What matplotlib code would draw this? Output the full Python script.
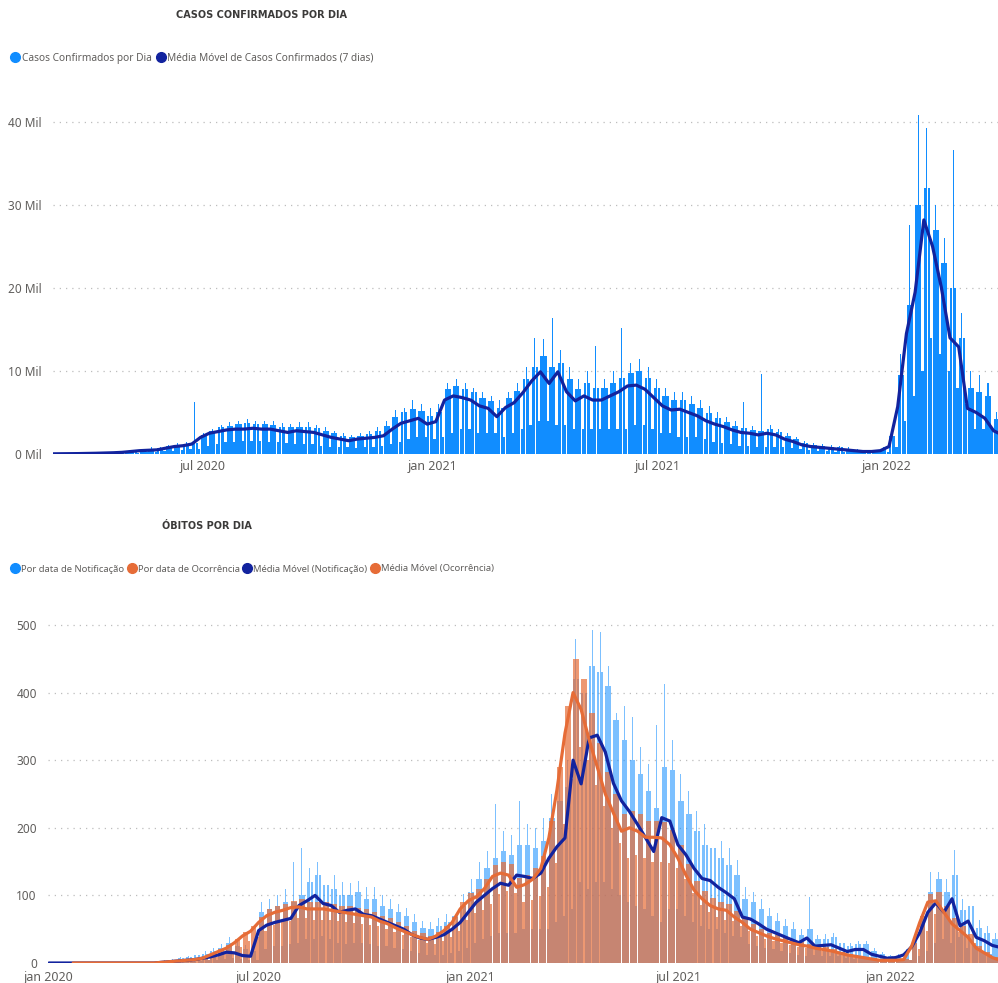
import numpy as np
import pandas as pd
import matplotlib
matplotlib.use('Agg')
import matplotlib.pyplot as plt
import matplotlib.dates as mdates
from matplotlib.lines import Line2D

# casos confirmados, semanas a partir de 02/03/2020 (valores em milhares)
casos_mm = [0.02, 0.03, 0.04, 0.05, 0.07, 0.09, 0.12, 0.15, 0.2,
            0.3, 0.4, 0.45, 0.5, 0.7, 0.9, 1.0, 1.2,
            2.0, 2.5, 2.7, 2.9, 3.0, 3.0, 3.1, 3.0, 3.0, 2.8, 2.6, 2.8, 2.7, 2.6,
            2.3, 2.0, 1.8, 1.6, 1.8, 1.9, 2.0, 2.2, 3.0, 3.7, 4.0, 4.3, 3.6, 3.9,
            6.5, 7.0, 6.8, 6.5, 5.8, 5.5, 4.5, 5.6, 6.2, 7.4, 8.8, 9.9, 8.5, 9.9,
            7.5, 6.4, 7.0, 6.5, 6.5, 7.0, 7.5, 8.2, 8.3, 7.8, 6.8, 5.8, 5.3, 5.4,
            5.0, 4.6, 4.0, 3.6, 3.3, 2.9, 2.6, 2.5, 2.3, 2.5, 2.3, 1.8, 1.5, 1.1,
            0.9, 0.8, 0.7, 0.6, 0.5, 0.4, 0.3, 0.3, 0.4, 0.9, 5.7, 14.5, 19.5, 28.2,
            25.0, 20.1, 14.0, 12.9, 5.5, 5.0, 4.3, 2.8, 2.3]
casos_pico = [0.05, 0.05, 0.08, 0.1, 0.12, 0.15, 0.2, 0.25, 0.3, 0.4, 0.5, 0.8, 0.9, 1.1, 1.3, 1.4, 6.3,
              2.5, 3.0, 3.5, 3.8, 4.0, 4.2, 4.0, 4.0, 4.0, 3.7, 3.6, 3.8, 3.8, 3.5,
              3.2, 2.8, 2.5, 2.3, 2.5, 2.8, 3.3, 4.0, 5.3, 5.6, 6.5, 6.0, 5.5, 6.0,
              8.5, 9.0, 8.5, 8.0, 7.5, 7.0, 6.5, 7.5, 8.5, 10.5, 14.0, 13.8, 16.4, 12.5,
              10.5, 9.0, 10.0, 13.0, 9.0, 10.0, 15.2, 11.0, 11.5, 10.5, 9.0, 8.0, 7.5, 7.5,
              7.0, 6.5, 5.8, 5.0, 4.5, 4.0, 6.3, 3.4, 9.6, 3.5, 3.0, 2.5, 2.0, 1.6,
              1.3, 1.2, 1.1, 1.0, 0.8, 0.6, 0.5, 0.5, 0.8, 3.0, 12.0, 27.6, 40.9, 39.3,
              30.0, 26.0, 36.6, 17.0, 10.0, 9.5, 8.5, 5.0, 5.0]
casos_base = [0.04, 0.04, 0.06, 0.08, 0.1, 0.12, 0.16, 0.2, 0.25, 0.35, 0.45, 0.65, 0.75, 0.95, 1.1, 1.2, 1.3,
              2.3, 2.8, 3.2, 3.4, 3.6, 3.7, 3.6, 3.6, 3.5, 3.3, 3.2, 3.3, 3.3, 3.1,
              2.8, 2.5, 2.2, 2.0, 2.2, 2.4, 2.8, 3.4, 4.5, 5.0, 5.4, 5.2, 4.6, 5.0,
              7.8, 8.2, 7.8, 7.5, 6.8, 6.4, 5.5, 6.7, 7.6, 9.0, 10.5, 11.8, 10.5, 11.0,
              9.0, 7.8, 8.5, 8.0, 8.0, 8.6, 9.2, 9.8, 10.0, 9.2, 8.0, 7.0, 6.5, 6.5,
              6.0, 5.5, 4.9, 4.3, 3.9, 3.4, 3.1, 2.9, 2.8, 3.0, 2.7, 2.2, 1.8, 1.3,
              1.1, 1.0, 0.9, 0.8, 0.6, 0.5, 0.4, 0.4, 0.6, 2.2, 9.5, 18.0, 30.0, 32.0,
              27.0, 23.0, 20.0, 14.0, 8.0, 7.5, 7.0, 4.2, 3.5]
casos_vale = [0.02, 0.02, 0.03, 0.04, 0.05, 0.06, 0.08, 0.1, 0.12, 0.15, 0.2, 0.3, 0.35, 0.4, 0.5, 0.55, 0.6,
              1.0, 1.2, 1.5, 1.5, 1.6, 1.6, 1.6, 1.5, 1.5, 1.3, 1.2, 1.2, 1.2, 1.0,
              0.9, 0.8, 0.8, 0.7, 0.8, 0.9, 1.0, 1.2, 1.5, 1.8, 2.0, 2.0, 1.8, 2.0,
              2.5, 3.0, 3.0, 2.5, 2.5, 2.5, 2.0, 2.5, 3.0, 3.5, 4.0, 4.0, 3.5, 3.5,
              3.0, 3.0, 3.0, 3.0, 3.0, 3.0, 3.0, 3.5, 3.5, 3.0, 2.5, 2.5, 2.0, 2.0,
              2.0, 1.8, 1.5, 1.3, 1.2, 1.0, 1.0, 0.9, 0.9, 0.9, 0.8, 0.7, 0.6, 0.5,
              0.4, 0.4, 0.3, 0.3, 0.2, 0.2, 0.2, 0.2, 0.3, 0.8, 4.0, 7.0, 10.0, 14.0,
              12.0, 10.0, 8.0, 6.0, 3.0, 3.0, 3.0, 1.5, 1.5]

# obitos, semanas a partir de 01/01/2020
notif_base = [0] * 13 + [1, 3, 5, 7, 9, 12, 14, 18, 22, 30, 25, 20, 18,
              75, 80, 85, 90, 90, 100, 120, 130, 115, 110, 100, 100, 105, 95,
              95, 85, 80, 75, 70, 60, 52, 50, 55, 60, 70, 85, 105, 125,
              140, 155, 165, 160, 175, 175, 170, 180, 215, 240, 260, 420, 400, 440,
              430, 410, 360, 330, 300, 280, 255, 230, 290, 285, 240, 220, 195, 175,
              170, 155, 145, 130, 95, 90, 80, 70, 62, 55, 50, 42, 50, 35,
              36, 38, 30, 25, 28, 28, 18, 14, 10, 11, 17, 33, 62, 105,
              125, 105, 130, 78, 85, 52, 45, 36, 32]
notif_pico = [0] * 13 + [1, 4, 6, 9, 11, 15, 18, 22, 28, 38, 32, 26, 24,
              90, 95, 100, 110, 150, 170, 140, 150, 135, 130, 120, 118, 122, 112,
              112, 100, 95, 88, 82, 72, 62, 60, 66, 72, 84, 102, 125, 150,
              165, 235, 195, 190, 240, 205, 200, 215, 250, 280, 300, 480, 507, 493,
              490, 440, 370, 380, 364, 320, 295, 352, 413, 330, 280, 255, 225, 205,
              198, 180, 170, 152, 112, 105, 95, 82, 74, 65, 60, 50, 98, 42,
              43, 45, 36, 30, 33, 33, 22, 17, 12, 13, 20, 40, 75, 135,
              135, 125, 167, 95, 100, 63, 54, 44, 38]
notif_vale = [0] * 13 + [0, 0, 1, 1, 2, 3, 4, 5, 6, 8, 6, 5, 5,
              20, 25, 25, 28, 30, 35, 35, 40, 35, 30, 28, 30, 30, 28,
              25, 25, 22, 20, 18, 15, 12, 12, 12, 15, 18, 22, 30, 35,
              40, 45, 45, 45, 50, 50, 50, 50, 60, 70, 80, 120, 110, 120,
              120, 110, 100, 90, 85, 80, 70, 60, 80, 80, 70, 60, 55, 50,
              50, 45, 40, 38, 28, 25, 22, 20, 18, 15, 12, 10, 12, 10,
              10, 10, 8, 6, 7, 7, 5, 4, 3, 3, 5, 10, 18, 30,
              35, 30, 38, 22, 25, 15, 13, 10, 9]
ocorr_alto = [0] * 13 + [0, 1, 3, 4, 5, 6, 9, 14, 20, 26, 35, 46, 54,
              68, 80, 85, 88, 92, 94, 90, 90, 90, 88, 85, 84, 82, 80,
              76, 70, 66, 60, 54, 48, 44, 40, 46, 55, 68, 90, 104, 110,
              124, 145, 150, 146, 126, 130, 140, 158, 210, 290, 380, 450, 420, 370,
              325, 282, 250, 220, 225, 220, 210, 210, 208, 197, 175, 146, 122, 107,
              96, 90, 88, 77, 68, 57, 51, 45, 41, 37, 34, 31, 28, 25,
              23, 20, 17, 14, 11, 9, 7, 5, 5, 5, 6, 30, 70, 102,
              105, 85, 66, 55, 43, 25, 17, 9, 5]
ocorr_baixo = [0] * 13 + [0, 0, 1, 2, 3, 4, 5, 9, 13, 17, 24, 32, 38,
               48, 56, 60, 62, 66, 66, 64, 64, 64, 62, 61, 59, 58, 56,
               54, 50, 46, 42, 38, 34, 30, 28, 32, 38, 48, 64, 74, 78,
               88, 102, 106, 104, 90, 93, 99, 112, 148, 205, 272, 320, 300, 264,
               232, 200, 178, 156, 160, 156, 149, 149, 148, 140, 124, 104, 86, 76,
               68, 64, 62, 54, 48, 40, 36, 32, 29, 26, 24, 22, 20, 18,
               16, 14, 12, 10, 8, 6, 5, 3, 3, 3, 4, 20, 48, 72,
               74, 60, 46, 38, 30, 18, 12, 6, 3]
mm_notif = [0] * 13 + [0, 1, 2, 3, 4, 5, 7, 9, 12, 16, 15, 11, 10,
            48, 56, 60, 63, 66, 85, 92, 100, 88, 85, 75, 78, 80, 72,
            70, 65, 60, 55, 50, 42, 37, 35, 38, 42, 50, 60, 75, 90,
            100, 110, 118, 115, 130, 128, 125, 133, 155, 172, 185, 300, 265, 333,
            337, 312, 266, 240, 224, 205, 185, 165, 215, 210, 175, 160, 140, 125,
            122, 112, 104, 95, 68, 65, 58, 50, 45, 40, 35, 30, 37, 25,
            26, 27, 22, 17, 20, 20, 13, 10, 7, 8, 12, 24, 45, 75,
            89, 75, 95, 55, 62, 38, 33, 26, 23]
mm_ocorr = [np.nan] * 3 + [0] * 10 + [0, 1, 2, 3, 4, 5, 7, 12, 17, 22, 30, 40, 47,
            60, 70, 75, 78, 82, 83, 80, 80, 80, 78, 76, 74, 72, 70,
            68, 62, 58, 52, 47, 42, 38, 35, 40, 48, 60, 80, 92, 98,
            110, 128, 133, 130, 112, 116, 124, 140, 185, 256, 340, 400, 375, 330,
            290, 250, 222, 195, 200, 195, 186, 186, 185, 175, 155, 130, 108, 95,
            85, 80, 78, 68, 60, 50, 45, 40, 36, 33, 30, 27, 25, 22,
            20, 18, 15, 12, 10, 8, 6, 4, 4, 4, 5, 25, 60, 90,
            92, 75, 58, 48, 38, 22, 15, 8, 4]

ticks_top = ['2020-07-01', '2021-01-01', '2021-07-01', '2022-01-01']
rot_top = ['jul 2020', 'jan 2021', 'jul 2021', 'jan 2022']
ticks_bot = ['2020-01-01', '2020-07-01', '2021-01-01', '2021-07-01', '2022-01-01']
rot_bot = ['jan 2020', 'jul 2020', 'jan 2021', 'jul 2021', 'jan 2022']

AZUL = '#118DFF'
MARINHO = '#12239E'
LARANJA = '#E66C37'
CINZA = '#605E5C'
plt.rcParams['font.family'] = ['Noto Sans', 'DejaVu Sans']

W, H = 998, 983
fig = plt.figure(figsize=(W / 100, H / 100), dpi=100)


def eixo(x0, y0, x1, y1):
    return fig.add_axes([x0 / W, 1 - y1 / H, (x1 - x0) / W, (y1 - y0) / H])


def semanas(inicio, n):
    return mdates.date2num(pd.date_range(inicio, periods=n, freq='7D').to_pydatetime())


def num(d):
    return mdates.date2num(pd.Timestamp(d).to_pydatetime())


def estilo(ax, yt, ylab, xt, xlab, xpad):
    for s in ax.spines.values():
        s.set_visible(False)
    ax.set_yticks(yt)
    ax.set_yticklabels(ylab)
    ax.set_xticks([num(d) for d in xt])
    ax.set_xticklabels(xlab)
    ax.tick_params(axis='y', length=0, pad=8, labelsize=8.5, labelcolor=CINZA)
    ax.tick_params(axis='x', length=0, pad=xpad, labelsize=9, labelcolor=CINZA)
    ax.yaxis.grid(True, ls=(0, (1, 4)), color='#BDBDBD', lw=0.9)
    ax.set_axisbelow(True)


def barras_semana(ax, t, base, pico, vale, cor, alpha):
    ax.bar(t + 1, base, width=1.85, color=cor, alpha=alpha, lw=0)
    ax.bar(t + 2.5, pico, width=0.85, color=cor, alpha=alpha, lw=0)
    ax.bar(t + 4, base, width=1.85, color=cor, alpha=alpha, lw=0)
    ax.bar(t + 6, vale, width=1.85, color=cor, alpha=alpha, lw=0)


# ---------------- casos confirmados ----------------
ax1 = eixo(53, 454 - 42.5 * 8.3, 998, 454)
t1 = semanas('2020-03-02', len(casos_mm))
barras_semana(ax1, t1, casos_base, casos_pico, casos_vale, AZUL, 1.0)
ax1.plot(t1, casos_mm, color=MARINHO, lw=2.3, solid_joinstyle='round', solid_capstyle='round')
j = num('2020-07-01')
ax1.set_xlim(j - 150 / 1.245, j + 795 / 1.245)
ax1.set_ylim(0, 42.5)
estilo(ax1, [0, 10, 20, 30, 40], ['0 Mil', '10 Mil', '20 Mil', '30 Mil', '40 Mil'],
       ticks_top, rot_top, 4)

fig.text(261 / W, 1 - 15 / H, 'CASOS CONFIRMADOS POR DIA', ha='center', va='center',
         fontsize=7, fontweight='bold', color='#3B3A39', family='DejaVu Sans')
h1 = [Line2D([], [], marker='o', ls='', color=c, markersize=7) for c in [AZUL, MARINHO]]
fig.legend(h1, ['Casos Confirmados por Dia', 'Média Móvel de Casos Confirmados (7 dias)'],
           loc='center left', bbox_to_anchor=(10 / W, 1 - 58 / H), ncol=2, frameon=False,
           handletextpad=0.15, columnspacing=0.4, handlelength=1.0, fontsize=7.3,
           labelcolor=CINZA, borderaxespad=0, borderpad=0)

# ---------------- obitos ----------------
ax2 = eixo(48, 963 - 530 * 0.676, 998, 963)
t2 = semanas('2020-01-01', len(mm_notif))
barras_semana(ax2, t2, notif_base, notif_pico, notif_vale, AZUL, 0.55)
ax2.bar(t2 + 2.5, ocorr_alto, width=4.85, color=LARANJA, alpha=0.7, lw=0)
ax2.bar(t2 + 6, ocorr_baixo, width=1.85, color=LARANJA, alpha=0.7, lw=0)
ax2.plot(t2, mm_notif, color=MARINHO, lw=2.3, solid_joinstyle='round', solid_capstyle='round')
ax2.plot(t2, mm_ocorr, color=LARANJA, lw=2.3, solid_joinstyle='round', solid_capstyle='round')
j0 = num('2020-01-01')
ax2.set_xlim(j0 - 1 / 1.153, j0 + 950 / 1.153)
ax2.set_ylim(0, 530)
estilo(ax2, [0, 100, 200, 300, 400, 500], ['0', '100', '200', '300', '400', '500'],
       ticks_bot, rot_bot, 6)

fig.text(207 / W, 1 - 526 / H, 'ÓBITOS POR DIA', ha='center', va='center',
         fontsize=7, fontweight='bold', color='#3B3A39', family='DejaVu Sans')
h2 = [Line2D([], [], marker='o', ls='', color=c, markersize=7)
      for c in [AZUL, LARANJA, MARINHO, LARANJA]]
fig.legend(h2, ['Por data de Notificação', 'Por data de Ocorrência',
                'Média Móvel (Notificação)', 'Média Móvel (Ocorrência)'],
           loc='center left', bbox_to_anchor=(10 / W, 1 - 569 / H), ncol=4, frameon=False,
           handletextpad=0.15, columnspacing=0.3, handlelength=1.0, fontsize=6.8,
           labelcolor=CINZA, borderaxespad=0, borderpad=0)

fig.savefig('out.png', dpi=100)
